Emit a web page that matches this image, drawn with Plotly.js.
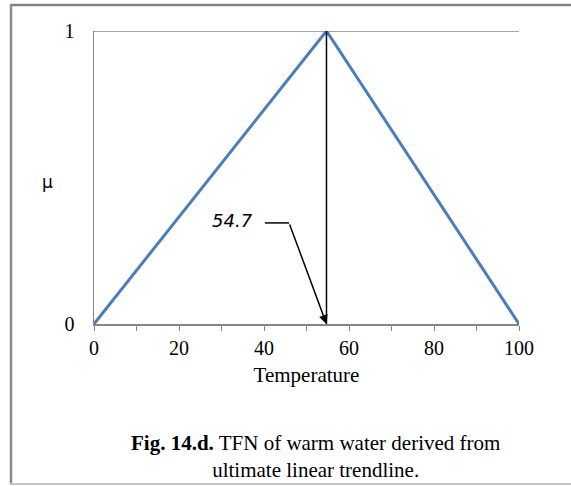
<!DOCTYPE html>
<html>
<head>
<meta charset="utf-8">
<script src="https://cdn.plot.ly/plotly-3.0.1.min.js"></script>
<style>html,body{margin:0;padding:0;background:#fff;}#chart{width:571px;height:486px;}</style>
</head>
<body>
<div id="chart"></div>
<script>
// TFN points (temperature, membership)
const temps = [0, 54.7, 100];
const mu = [0, 1, 0];
// peak marker
const peakX = [54.7, 54.7];
const peakY = [1, 0];
const peakLabel = "54.7";
const xTickVals = [0, 20, 40, 60, 80, 100];
const yTickVals = [0, 1];

const serif = "'Liberation Serif', 'Times New Roman', serif";
const sans = "'DejaVu Sans', Tahoma, sans-serif";

const L = 94, T = 31, W = 425, H = 293;
function px(p) { return (p - L) / W; }
function py(p) { return (T + H - p) / H; }

const traces = [
  { x: temps, y: mu, type: 'scatter', mode: 'lines', line: { color: '#4A7EBB', width: 3 }, hoverinfo: 'skip' },
  { x: peakX, y: peakY, type: 'scatter', mode: 'lines', line: { color: '#000', width: 1.5 }, hoverinfo: 'skip' }
];

const layout = {
  width: 571, height: 486,
  margin: { l: L, r: 571 - L - W, t: T, b: 486 - T - H },
  paper_bgcolor: '#fff', plot_bgcolor: '#fff',
  showlegend: false,
  font: { family: serif, size: 20, color: '#000' },
  xaxis: {
    range: [0, 100], tickvals: xTickVals, ticks: 'outside', ticklen: 5, tickcolor: '#868686', tickwidth: 1,
    minor: { dtick: 10, ticks: 'outside', ticklen: 5, tickcolor: '#868686', tickwidth: 1 },
    showline: true, linecolor: '#868686', linewidth: 1.5, showgrid: false, zeroline: false,
    tickfont: { family: serif, size: 20 },
    title: { text: 'Temperature', font: { family: serif, size: 21 }, standoff: 10 }
  },
  yaxis: {
    range: [0, 1], tickvals: yTickVals, ticks: '', showline: true, linecolor: '#868686', linewidth: 1.5,
    showgrid: false, zeroline: false,
    tickfont: { family: serif, size: 20 }, ticklabelstandoff: 14
  },
  shapes: [
    { type: 'line', xref: 'x', yref: 'y', x0: 0, x1: 100, y0: yTickVals[1], y1: yTickVals[1], line: { color: '#8a8a8a', width: 1.5 }, layer: 'below' },
    { type: 'line', xref: 'paper', yref: 'paper', x0: px(10), x1: px(575), y0: py(5), y1: py(5), line: { color: '#7f7f7f', width: 2.5 } },
    { type: 'line', xref: 'paper', yref: 'paper', x0: px(11), x1: px(11), y0: py(4), y1: py(484), line: { color: '#8c8c8c', width: 2.5 } },
    { type: 'line', xref: 'paper', yref: 'paper', x0: px(10), x1: px(575), y0: py(484), y1: py(484), line: { color: '#c4c4c4', width: 2 } },
    { type: 'line', xref: 'x', yref: 'y', x0: 40.2, x1: 45.9, y0: 0.345, y1: 0.345, line: { color: '#000', width: 1.5 } }
  ],
  annotations: [
    { xref: 'x', yref: 'y', x: peakX[1], y: 0, axref: 'x', ayref: 'y', ax: 45.9, ay: 0.345, text: '', showarrow: true, arrowhead: 2, arrowsize: 1.2, arrowwidth: 1.5, arrowcolor: '#000' },
    { xref: 'x', yref: 'y', x: 32.7, y: 0.352, xanchor: 'center', yanchor: 'middle', text: '<i>' + peakLabel + '</i>', showarrow: false, font: { family: sans, size: 18, color: '#000' } },
    { xref: 'paper', yref: 'paper', x: px(47), y: py(182), xanchor: 'center', yanchor: 'middle', text: 'μ', showarrow: false, font: { family: sans, size: 17, color: '#000' } },
    { xref: 'paper', yref: 'paper', x: px(315), y: py(456), xanchor: 'center', yanchor: 'middle', text: '<b>Fig. 14.d.</b> TFN of warm water derived from<br>ultimate linear trendline.', showarrow: false, align: 'center', font: { family: serif, size: 21, color: '#000' } }
  ]
};

Plotly.newPlot('chart', traces, layout, { displayModeBar: false, staticPlot: true });
</script>
</body>
</html>
